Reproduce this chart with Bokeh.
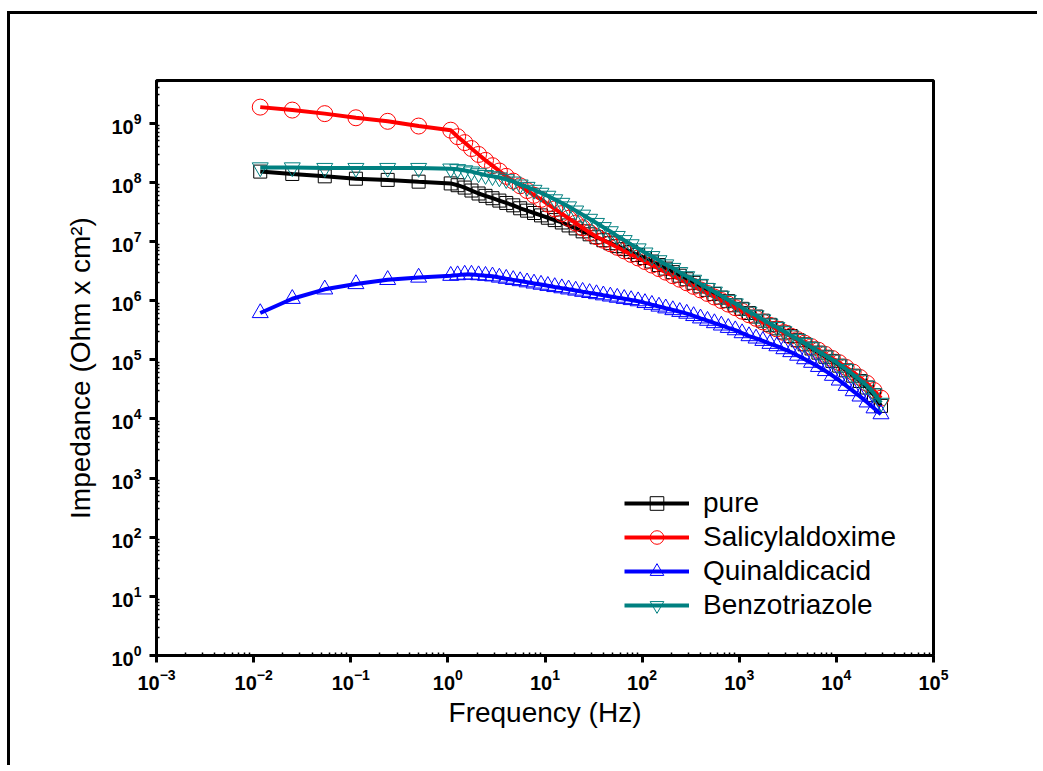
import numpy as np
from bokeh.plotting import figure
from bokeh.models import FixedTicker, Legend, LegendItem, Range1d
from bokeh.embed import file_html
from bokeh.resources import INLINE

# ---------------- data ----------------
freq_hz = [0.0117, 0.025, 0.054, 0.113, 0.24, 0.5,
           1.07, 1.26, 1.49, 1.75, 2.07, 2.44, 2.88, 3.39, 3.99, 4.71, 5.55, 6.54, 7.71, 9.10,
           10.7, 12.6, 14.9, 17.5, 20.7, 24.4, 28.8, 33.9, 39.9, 47.1, 55.5, 65.4, 77.1, 91.0,
           107, 126, 149, 175, 207, 244, 288, 339, 399, 471, 555, 654, 771, 910,
           1070, 1260, 1490, 1750, 2070, 2440, 2880, 3390, 3990, 4710, 5550, 6540, 7710, 9100,
           10700, 12600, 14900, 17500, 20700, 24400, 28800]

# impedance values given as log10(|Z| / Ohm cm^2)
log_z_pure = [8.18, 8.14, 8.10, 8.06, 8.04, 8.01,
              7.98, 7.95, 7.91, 7.86, 7.81, 7.77, 7.73, 7.69, 7.65, 7.61, 7.56, 7.52, 7.48, 7.44,
              7.40, 7.36, 7.32, 7.27, 7.22, 7.17, 7.12, 7.07, 7.02, 6.97, 6.92, 6.87, 6.82, 6.77,
              6.72, 6.66, 6.60, 6.54, 6.48, 6.42, 6.36, 6.30, 6.24, 6.18, 6.11, 6.05, 5.99, 5.92,
              5.86, 5.79, 5.73, 5.66, 5.59, 5.53, 5.46, 5.40, 5.33, 5.26, 5.19, 5.12, 5.05, 4.98,
              4.90, 4.82, 4.73, 4.64, 4.53, 4.40, 4.22]

log_z_salicylaldoxime = [9.27, 9.22, 9.16, 9.09, 9.03, 8.95,
                         8.88, 8.77, 8.67, 8.57, 8.47, 8.37, 8.28, 8.19, 8.10, 8.02, 7.94, 7.86, 7.78, 7.71,
                         7.63, 7.55, 7.47, 7.39, 7.31, 7.23, 7.15, 7.08, 7.02, 6.96, 6.90, 6.84, 6.78, 6.72,
                         6.66, 6.60, 6.54, 6.48, 6.42, 6.36, 6.30, 6.24, 6.18, 6.12, 6.06, 6.00, 5.94, 5.88,
                         5.82, 5.76, 5.70, 5.64, 5.58, 5.52, 5.46, 5.40, 5.34, 5.28, 5.22, 5.16, 5.09, 5.02,
                         4.95, 4.87, 4.79, 4.70, 4.60, 4.48, 4.35]

log_z_quinaldicacid = [5.79, 6.03, 6.19, 6.28, 6.35, 6.39,
                       6.42, 6.43, 6.44, 6.44, 6.43, 6.42, 6.41, 6.39, 6.37, 6.35, 6.33, 6.31, 6.29, 6.27,
                       6.25, 6.23, 6.21, 6.19, 6.17, 6.15, 6.13, 6.11, 6.09, 6.07, 6.05, 6.03, 6.01, 5.99,
                       5.96, 5.93, 5.90, 5.87, 5.84, 5.81, 5.78, 5.74, 5.70, 5.66, 5.62, 5.58, 5.54, 5.50,
                       5.45, 5.40, 5.36, 5.32, 5.27, 5.23, 5.18, 5.13, 5.07, 5.01, 4.95, 4.88, 4.81, 4.73,
                       4.65, 4.56, 4.47, 4.38, 4.28, 4.18, 4.08]

log_z_benzotriazole = [8.25, 8.25, 8.24, 8.24, 8.24, 8.24,
                       8.23, 8.22, 8.20, 8.18, 8.15, 8.12, 8.10, 8.08, 8.05, 8.01, 7.96, 7.92, 7.87, 7.82,
                       7.77, 7.71, 7.65, 7.59, 7.52, 7.45, 7.38, 7.31, 7.24, 7.17, 7.09, 7.02, 6.95, 6.88,
                       6.81, 6.75, 6.68, 6.61, 6.55, 6.48, 6.41, 6.35, 6.28, 6.21, 6.15, 6.08, 6.01, 5.95,
                       5.88, 5.81, 5.75, 5.68, 5.61, 5.55, 5.48, 5.41, 5.35, 5.28, 5.21, 5.14, 5.07, 5.00,
                       4.92, 4.84, 4.75, 4.66, 4.56, 4.43, 4.27]

series_names = ["pure", "Salicylaldoxime", "Quinaldicacid", "Benzotriazole"]
x_tick_values = [1e-3, 1e-2, 1e-1, 1e0, 1e1, 1e2, 1e3, 1e4, 1e5]
y_tick_values = [1e0, 1e1, 1e2, 1e3, 1e4, 1e5, 1e6, 1e7, 1e8, 1e9]

# ---------------- styling ----------------
FONT = "Liberation Sans"
colors = ["#000000", "#FF0000", "#0000FF", "#008080"]
markers = ["square", "circle", "triangle", "inverted_triangle"]
marker_sizes = [13, 16, 16, 16]
series_logz = [log_z_pure, log_z_salicylaldoxime, log_z_quinaldicacid, log_z_benzotriazole]

p = figure(
    x_axis_type="log", y_axis_type="log",
    x_range=Range1d(1e-3, 1e5), y_range=Range1d(1, 10 ** 9.72),
    frame_width=777, frame_height=575,
    min_border_left=146, min_border_top=66, min_border_right=104, min_border_bottom=110,
    output_backend="svg", toolbar_location=None,
    background_fill_color="white", border_fill_color="white",
)
p.styles = {"margin-left": "7px", "margin-top": "11px",
            "border-left": "3px solid black", "border-top": "3px solid black"}

p.grid.visible = False
p.outline_line_color = "black"
p.outline_line_width = 3

minor_x = [m * 10.0 ** e for e in range(-3, 5) for m in range(2, 10)]
minor_y = [m * 10.0 ** e for e in range(0, 10) for m in range(2, 10)]
p.xaxis.ticker = FixedTicker(ticks=x_tick_values, minor_ticks=minor_x)
p.yaxis.ticker = FixedTicker(ticks=y_tick_values, minor_ticks=minor_y)

for ax in (p.xaxis, p.yaxis):
    ax.axis_line_width = 3
    ax.major_tick_line_width = 3
    ax.major_tick_out = 7
    ax.major_tick_in = 0
    ax.minor_tick_line_width = 1.5
    ax.minor_tick_in = 3
    ax.minor_tick_out = 0
    ax.major_label_text_font = FONT
    ax.major_label_text_font_style = "bold"
    ax.major_label_text_font_size = "20px"
    ax.major_label_text_color = "black"
    ax.axis_label_text_font = FONT
    ax.axis_label_text_font_style = "normal"
    ax.axis_label_text_color = "black"
    ax.axis_label_text_font_size = "28px"

p.xaxis.axis_label = "Frequency (Hz)"
p.yaxis.axis_label = "Impedance (Ohm x cm²)"
p.xaxis.major_label_standoff = 6
p.xaxis.axis_label_standoff = 4
p.yaxis.major_label_standoff = 8
p.yaxis.axis_label_standoff = 12

legend_items = []
for name, logz, col, mk, ms in zip(series_names, series_logz, colors, markers, marker_sizes):
    z = 10 ** np.array(logz)
    sc = p.scatter(freq_hz, z, marker=mk, size=ms, fill_color=None,
                   line_color=col, line_width=1)
    ln = p.line(freq_hz, z, line_color=col, line_width=4)
    legend_items.append(LegendItem(label=name, renderers=[ln, sc]))

legend = Legend(items=legend_items, location=(468, 33),
                glyph_width=65, glyph_height=34, label_height=34,
                label_text_font=FONT, label_text_font_size="28px",
                label_text_color="black",
                label_standoff=14, spacing=0, padding=0, margin=0,
                border_line_color=None, background_fill_alpha=0)
p.add_layout(legend)

open("out.html", "w").write(file_html(p, INLINE))
